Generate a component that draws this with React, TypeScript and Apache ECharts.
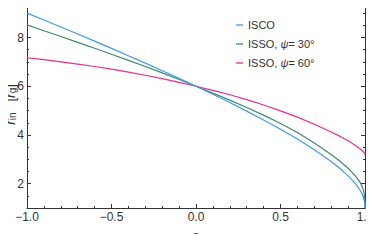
import React, { useEffect, useRef } from "react";
import * as echarts from "echarts";

const spinA = [-1, -0.9, -0.8, -0.7, -0.6, -0.5, -0.4, -0.3, -0.2, -0.1, 0, 0.1, 0.2, 0.3, 0.4, 0.5, 0.6, 0.7, 0.8, 0.85, 0.9, 0.93, 0.95, 0.97, 0.98, 0.99, 0.998, 0.9995, 1];
const isco = [9, 8.717, 8.432, 8.143, 7.851, 7.555, 7.254, 6.949, 6.639, 6.323, 6, 5.669, 5.329, 4.979, 4.614, 4.233, 3.829, 3.393, 2.907, 2.632, 2.321, 2.104, 1.937, 1.738, 1.614, 1.455, 1.237, 1.13, 1];
const isso30 = [8.52, 8.277, 8.042, 7.803, 7.561, 7.315, 7.064, 6.809, 6.549, 6.278, 6, 5.719, 5.429, 5.129, 4.814, 4.473, 4.099, 3.673, 3.197, 2.93, 2.631, 2.41, 2.257, 2.06, 1.934, 1.755, 1.45, 1.25, 1];
const isso60 = [7.17, 7.09, 7.0, 6.91, 6.81, 6.7, 6.58, 6.45, 6.31, 6.16, 6.0, 5.83, 5.65, 5.45, 5.23, 4.99, 4.73, 4.44, 4.12, 3.95, 3.76, 3.63, 3.535, 3.43, 3.37, 3.3, 3.23, 3.21, 3.2];
const seriesNames = ["ISCO", "ISSO, ψ= 30°", "ISSO, ψ= 60°"];
const yMajorTicks = [2, 4, 6, 8];
const yMinorTicks = [1, 1.5, 2.5, 3, 3.5, 4.5, 5, 5.5, 6.5, 7, 7.5, 8.5, 9, 9.5];

const FONT = "'Liberation Sans', Arial, sans-serif";
const FRAME = "#333";

export default function App() {
  const ref = useRef<HTMLDivElement>(null);
  useEffect(() => {
    if (!ref.current) return;
    const chart = echarts.init(ref.current, undefined, { renderer: "svg" });
    const colors = ["#3a9cf0", "#3e8a6c", "#e8308c"];
    const vals = [isco, isso30, isso60];
    const fmtX = (v: number) => (v < 0 ? "\u2212" : "") + Math.abs(v).toFixed(1);
    const baseX = {
      type: "value",
      min: -1,
      max: 1,
      interval: 0.5,
      axisLine: { show: true, onZero: false, lineStyle: { color: FRAME, width: 1 } },
      axisTick: { show: true, inside: true, length: 4, lineStyle: { color: FRAME } },
      minorTick: { show: true, splitNumber: 5, length: 2, lineStyle: { color: FRAME } },
      splitLine: { show: false },
      minorSplitLine: { show: false },
    };
    const baseY = {
      type: "value",
      min: 1,
      max: 9.5,
      axisLine: { show: true, onZero: false, lineStyle: { color: FRAME, width: 1 } },
      axisTick: { show: true, inside: true, length: 4, customValues: yMajorTicks, lineStyle: { color: FRAME } },
      splitLine: { show: false },
      axisLabel: { show: false },
    };
    const minorY = {
      type: "value",
      min: 1,
      max: 9.5,
      axisLine: { show: false, onZero: false },
      axisTick: { show: true, inside: true, length: 2, customValues: yMinorTicks, lineStyle: { color: FRAME } },
      splitLine: { show: false },
      axisLabel: { show: false },
    };
    chart.setOption({
      animation: false,
      grid: { left: 27, right: 9, top: 1, bottom: 34, outerBoundsMode: "none", containLabel: false },
      legend: {
        orient: "vertical",
        left: 231,
        top: 14,
        itemGap: 7,
        icon: "rect",
        itemWidth: 7,
        itemHeight: 1.3,
        data: seriesNames,
        textStyle: {
          fontFamily: FONT,
          fontSize: 11,
          color: "#333",
          lineHeight: 12,
          rich: { i: { fontStyle: "italic", fontFamily: FONT, fontSize: 11, color: "#333" } },
        },
        formatter: (name: string) => name.replace("ψ", "{i|ψ}"),
      },
      xAxis: [
        {
          ...baseX,
          position: "bottom",
          name: "a",
          nameLocation: "middle",
          nameGap: 21,
          nameMoveOverlap: false,
          nameTextStyle: { fontFamily: FONT, fontSize: 11, color: "#333" },
          axisLabel: { show: true, margin: 3, fontFamily: FONT, fontSize: 12, color: "#333", formatter: fmtX },
        },
        { ...baseX, position: "top", axisLabel: { show: false } },
      ],
      yAxis: [
        {
          ...baseY,
          position: "left",
          axisLabel: { show: true, customValues: yMajorTicks, margin: 3, fontFamily: FONT, fontSize: 12, color: "#333" },
          name: "{ri|r}{sub|in}   [{ri|r}{sub|g}]",
          nameLocation: "middle",
          nameGap: 10,
          nameMoveOverlap: false,
          nameRotate: 90,
          nameTextStyle: {
            fontFamily: FONT,
            fontSize: 13,
            color: "#333",
            lineHeight: 14,
            rich: {
              ri: { fontStyle: "italic", fontFamily: FONT, fontSize: 14, color: "#333", lineHeight: 14 },
              sub: { fontFamily: FONT, fontSize: 10, color: "#333", lineHeight: 14, verticalAlign: "bottom", padding: [3, 0, 0, 0] },
            },
          },
        },
        { ...minorY, position: "left" },
        { ...baseY, position: "right" },
        { ...minorY, position: "right" },
      ],
      series: seriesNames.map((name, k) => ({
        name,
        type: "line",
        xAxisIndex: 0,
        yAxisIndex: 0,
        showSymbol: false,
        symbol: "none",
        smooth: false,
        color: colors[k],
        lineStyle: { width: 1.2, color: colors[k] },
        data: spinA.map((a, i) => [a, vals[k][i]]),
        z: 3 - k,
      })),
    });
    return () => chart.dispose();
  }, []);
  return <div ref={ref} style={{ width: 374, height: 242, margin: -8 }} />;
}
